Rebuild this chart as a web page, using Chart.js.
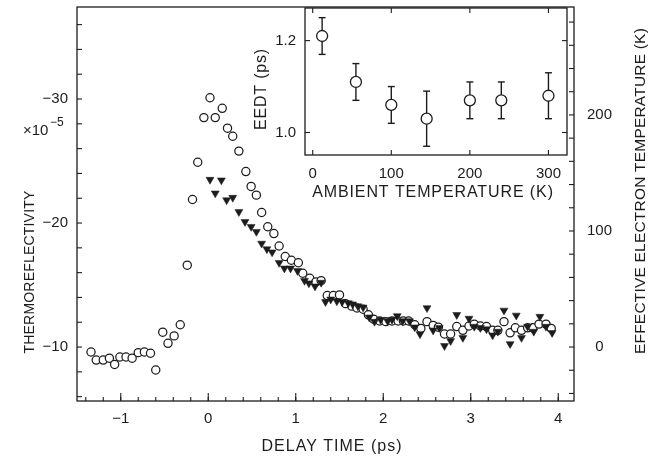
<!DOCTYPE html><html><head><meta charset="utf-8">
<title>Thermoreflectivity vs delay time</title>
<script src="https://cdn.jsdelivr.net/npm/chart.js@4.4.1/dist/chart.umd.min.js"></script>
<style>
body { margin: 0; background: #fff; }
#wrap { position: relative; width: 658px; height: 459px; }
#wrap canvas { position: absolute; top: 0; }
#main { left: 0; }
#inset { left: 240px; }
</style>
</head><body>
<div id=wrap>
<canvas id=main width=658 height=459></canvas>
<canvas id=inset width=340 height=205></canvas>
</div>

<script>
// main plot: open circles and filled (down) triangles, delay time in ps
const circleTime = [-1.34, -1.28, -1.20, -1.13, -1.07, -1.01, -0.94, -0.87, -0.80, -0.73, -0.66, -0.60, -0.52, -0.46, -0.39, -0.32,
  -0.24, -0.18, -0.12, -0.05, 0.02, 0.08, 0.16, 0.22, 0.28, 0.35, 0.43, 0.49, 0.55, 0.61, 0.68, 0.75, 0.81, 0.88,
  0.95, 1.03, 1.08, 1.16, 1.23, 1.29,
  1.36, 1.43, 1.50, 1.57, 1.64, 1.70, 1.77, 1.83, 1.89, 1.96,
  2.03, 2.10, 2.17, 2.23, 2.29, 2.36, 2.43, 2.50, 2.57, 2.63,
  2.70, 2.77, 2.84, 2.91, 2.98, 3.04, 3.11, 3.18, 3.25, 3.31,
  3.38, 3.45, 3.51, 3.58, 3.65, 3.71, 3.78, 3.86, 3.92];
const circleTR = [-9.6, -8.95, -8.95, -9.1, -8.6, -9.2, -9.2, -9.1, -9.55, -9.6, -9.5, -8.15, -11.2, -10.3, -10.9, -11.8,
  -16.6, -21.9, -24.9, -28.5, -30.1, -28.5, -29.25, -27.65, -27.0, -25.8, -24.15, -22.95, -22.25, -20.85, -19.7, -19.15, -18.15, -17.3,
  -17.0, -16.8, -15.95, -15.55, -15.25, -15.35,
  -14.15, -14.15, -14.2, -13.5, -13.3, -13.15, -13.05, -12.6, -12.25, -12.1,
  -12.05, -12.1, -12.1, -12.1, -12.1, -11.8, -11.5, -12.05, -11.75, -11.6,
  -11.05, -11.05, -11.65, -11.35, -11.7, -11.85, -11.7, -11.65, -11.35, -11.35,
  -12.05, -11.15, -11.55, -11.35, -11.55, -11.55, -11.85, -11.85, -11.5];

const triTime = [0.02, 0.08, 0.15, 0.21, 0.28, 0.35, 0.42, 0.49, 0.55, 0.61, 0.67, 0.73, 0.81, 0.87,
  0.94, 1.02, 1.10, 1.15, 1.22, 1.29,
  1.34, 1.40, 1.47, 1.53, 1.60, 1.65, 1.71, 1.77, 1.84, 1.90,
  1.97, 2.05, 2.10, 2.16, 2.22, 2.30, 2.36, 2.42, 2.50, 2.57,
  2.64, 2.70, 2.77, 2.84, 2.91, 2.98, 3.04, 3.11, 3.18, 3.25,
  3.31, 3.38, 3.45, 3.52, 3.58, 3.65, 3.72, 3.79, 3.86, 3.93];
const triTR = [-23.5, -22.4, -23.45, -21.85, -22.05, -20.9, -20.1, -19.7, -19.3, -18.35, -17.9, -17.65, -16.8, -16.35,
  -16.35, -16.15, -15.35, -15.15, -14.9, -15.2,
  -13.65, -13.85, -13.7, -13.65, -13.55, -13.45, -13.3, -13.2, -12.4, -12.05,
  -12.2, -12.1, -12.2, -12.5, -12.1, -12.1, -11.6, -11.05, -13.15, -11.35,
  -11.55, -10.1, -10.5, -12.6, -10.75, -12.3, -11.65, -11.55, -11.45, -10.95,
  -11.25, -12.95, -10.25, -12.55, -10.75, -11.65, -11.25, -12.45, -11.65, -11.15];

// inset: EEDT vs ambient temperature, with error bars
const ambientT = [12, 55, 100, 145, 200, 240, 300];
const eedt = [1.21, 1.11, 1.06, 1.03, 1.07, 1.07, 1.08];
const eedtLo = [1.17, 1.07, 1.02, 0.97, 1.03, 1.03, 1.03];
const eedtHi = [1.25, 1.15, 1.10, 1.09, 1.11, 1.11, 1.13];

const xTicks = [-1, 0, 1, 2, 3, 4];
const yTicks = [-30, -20, -10];
const y2Ticks = [0, 100, 200];

const ink = "#1c1c1c";
const family = "'Liberation Sans', Arial, sans-serif";
const minus = v => (v < 0 ? "\u2212" + Math.abs(v) : String(v));

const range = (min, max, step) => {
  const res = [];
  for (let k = Math.ceil(min / step - 1e-6); k * step <= max + 1e-6; k++) res.push(k * step);
  return res;
};

// box round the plot area and inward tick marks
const frameTicks = (marks) => ({
  id: "frameTicks",
  afterDraw(chart) {
    const { ctx, chartArea: a, scales } = chart;
    ctx.save();
    ctx.strokeStyle = ink;
    ctx.lineWidth = 1.3;
    ctx.strokeRect(a.left, a.top, a.right - a.left, a.bottom - a.top);
    ctx.lineWidth = 1.1;
    for (const m of marks) {
      const s = scales[m.scale];
      for (const v of range(s.min, s.max, m.step)) {
        const p = s.getPixelForValue(v);
        ctx.beginPath();
        if (m.side === "bottom") { ctx.moveTo(p, a.bottom); ctx.lineTo(p, a.bottom - m.len); }
        if (m.side === "top") { ctx.moveTo(p, a.top); ctx.lineTo(p, a.top + m.len); }
        if (m.side === "left") { ctx.moveTo(a.left, p); ctx.lineTo(a.left + m.len, p); }
        if (m.side === "right") { ctx.moveTo(a.right, p); ctx.lineTo(a.right - m.len, p); }
        ctx.stroke();
      }
    }
    ctx.restore();
  }
});

// axis titles and other free text
const notes = (items) => ({
  id: "notes",
  afterDraw(chart) {
    const ctx = chart.ctx;
    for (const n of items) {
      ctx.save();
      ctx.translate(n.x, n.y);
      if (n.rot) ctx.rotate(n.rot * Math.PI / 180);
      ctx.font = `${n.size || 16}px ${family}`;
      ctx.letterSpacing = (n.ls ?? 0.4) + "px";
      ctx.fillStyle = ink;
      ctx.textAlign = n.align || "center";
      ctx.textBaseline = "middle";
      ctx.fillText(n.text, 0, 0);
      ctx.restore();
    }
  }
});

const tickFont = { family, size: 15 };
const noGrid = { display: false, drawTicks: false };
const noPad = s => { s.paddingTop = 0; s.paddingBottom = 0; s.paddingLeft = 0; s.paddingRight = 0; };
const pick = list => v => (list.some(t => Math.abs(t - v) < 1e-6) ? minus(Math.round(v)) : "");

new Chart(document.getElementById("main"), {
  type: "scatter",
  data: {
    datasets: [
      {
        data: triTime.map((t, i) => ({ x: t, y: triTR[i] })),
        pointStyle: "triangle",
        rotation: 180,
        pointRadius: 4.6,
        backgroundColor: ink,
        borderColor: ink,
        borderWidth: 0.5,
        order: 0,
      },
      {
        data: circleTime.map((t, i) => ({ x: t, y: circleTR[i] })),
        pointStyle: "circle",
        pointRadius: 4.1,
        backgroundColor: "#fff",
        borderColor: ink,
        borderWidth: 1.25,
        order: 1,
      },
    ],
  },
  options: {
    responsive: false,
    animation: false,
    events: [],
    layout: { padding: { top: 7, left: 0, right: 0, bottom: 0 } },
    plugins: { legend: { display: false }, tooltip: { enabled: false } },
    scales: {
      x: {
        type: "linear", min: -1.5, max: 4.18,
        grid: noGrid, border: { display: false },
        ticks: { stepSize: 1, includeBounds: false, padding: 9, color: ink, font: tickFont, callback: pick(xTicks) },
        afterFit: s => { s.height = 58; noPad(s); },
      },
      y: {
        type: "linear", min: -37.42, max: -5.65, reverse: true,
        grid: noGrid, border: { display: false },
        ticks: { stepSize: 10, includeBounds: false, padding: 9, color: ink, font: tickFont, callback: pick(yTicks) },
        afterFit: s => { s.width = 77; noPad(s); },
      },
      y2: {
        type: "linear", position: "right", min: -46.5, max: 293,
        grid: noGrid, border: { display: false },
        ticks: { stepSize: 100, includeBounds: false, padding: 13, crossAlign: "center", color: ink, font: tickFont, callback: pick(y2Ticks) },
        afterFit: s => { s.width = 84; noPad(s); },
      },
    },
  },
  plugins: [
    frameTicks([
      { scale: "x", side: "bottom", step: 1, len: 8 },
      { scale: "x", side: "bottom", step: 0.2, len: 4 },
      { scale: "y", side: "left", step: 2, len: 5 },
      { scale: "y2", side: "right", step: 20, len: 5 },
    ]),
    notes([
      { text: "THERMOREFLECTIVITY", x: 30, y: 272, rot: -90, size: 14, ls: 0.2 },
      { text: "\u00d710", x: 23, y: 131, size: 15, align: "left", ls: 0 },
      { text: "\u22125", x: 50, y: 123, size: 12, align: "left", ls: 0 },
      { text: "DELAY TIME (ps)", x: 332, y: 447, size: 16, ls: 1 },
      { text: "EFFECTIVE ELECTRON TEMPERATURE (K)", x: 641, y: 191, rot: -90, size: 15.5, ls: 0.2 },
    ]),
  ],
});

const bars = ambientT.map((t, i) => ({
  data: [{ x: t, y: eedtLo[i] }, { x: t, y: eedtHi[i] }],
  showLine: true,
  borderColor: ink,
  borderWidth: 1.4,
  pointStyle: "line",
  pointRadius: 3.5,
  pointBorderWidth: 1.4,
  order: 1,
}));

new Chart(document.getElementById("inset"), {
  type: "scatter",
  data: {
    datasets: [
      {
        data: ambientT.map((t, i) => ({ x: t, y: eedt[i] })),
        pointStyle: "circle",
        pointRadius: 5.5,
        backgroundColor: "#fff",
        borderColor: ink,
        borderWidth: 1.3,
        order: 0,
      },
      ...bars,
    ],
  },
  options: {
    responsive: false,
    animation: false,
    events: [],
    layout: { padding: { top: 8, right: 13, left: 0, bottom: 0 } },
    plugins: { legend: { display: false }, tooltip: { enabled: false } },
    scales: {
      x: {
        type: "linear", min: -9.8, max: 323.6,
        grid: noGrid, border: { display: false },
        ticks: { stepSize: 100, includeBounds: false, padding: 10, color: ink, font: tickFont },
        afterFit: s => { s.height = 50; noPad(s); },
      },
      y: {
        type: "linear", min: 0.951, max: 1.271,
        grid: noGrid, border: { display: false },
        ticks: { stepSize: 0.2, includeBounds: false, padding: 9, color: ink, font: tickFont, callback: v => v.toFixed(1) },
        afterFit: s => { s.width = 65; noPad(s); },
      },
    },
  },
  plugins: [
    frameTicks([
      { scale: "x", side: "bottom", step: 100, len: 5 },
      { scale: "x", side: "top", step: 100, len: 5 },
      { scale: "y", side: "left", step: 0.2, len: 5 },
      { scale: "y", side: "right", step: 0.2, len: 5 },
    ]),
    notes([
      { text: "EEDT (ps)", x: 22, y: 89, rot: -90, size: 16, ls: 0.8 },
      { text: "AMBIENT TEMPERATURE (K)", x: 193, y: 193, size: 16, ls: 0.9 },
    ]),
  ],
});
</script>
</body>
</html>
